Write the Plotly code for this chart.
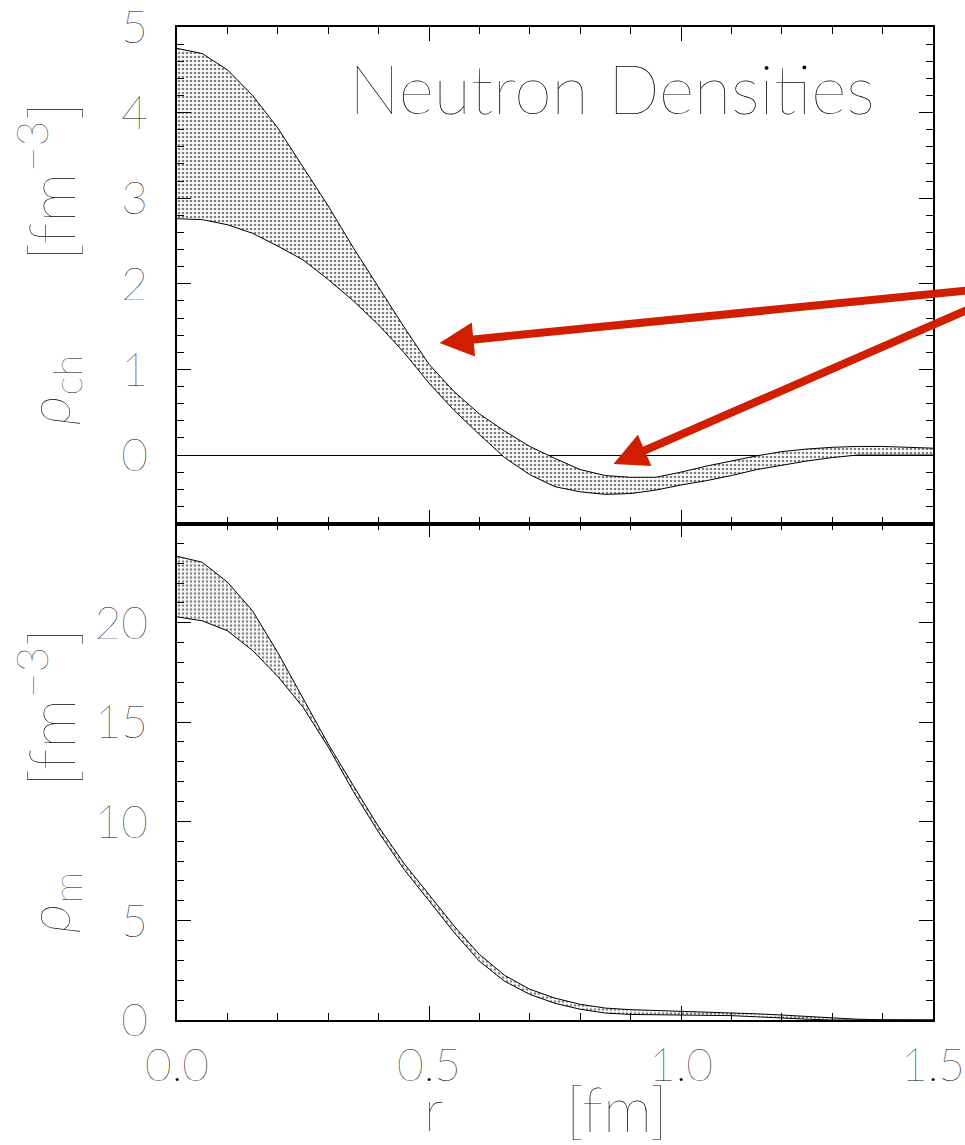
import plotly.graph_objects as go

# ---------------- data ----------------
r = [0.00, 0.05, 0.10, 0.15, 0.20, 0.25, 0.30, 0.35, 0.40, 0.45, 0.50,
     0.55, 0.60, 0.65, 0.70, 0.75, 0.80, 0.85, 0.90, 0.95, 1.00,
     1.05, 1.10, 1.15, 1.20, 1.25, 1.30, 1.35, 1.40, 1.45, 1.50]

rho_ch_upper = [4.75, 4.69, 4.50, 4.20, 3.82, 3.37, 2.91, 2.42, 1.96, 1.50, 1.06,
                0.74, 0.48, 0.28, 0.10, -0.04, -0.17, -0.24, -0.26, -0.26, -0.20,
                -0.13, -0.07, -0.01, 0.04, 0.07, 0.09, 0.10, 0.10, 0.09, 0.08]
rho_ch_lower = [2.76, 2.75, 2.69, 2.59, 2.44, 2.28, 2.05, 1.80, 1.52, 1.20, 0.84,
                0.52, 0.24, -0.03, -0.23, -0.37, -0.43, -0.46, -0.45, -0.41, -0.35,
                -0.30, -0.24, -0.17, -0.12, -0.07, -0.03, 0.00, 0.00, 0.00, 0.00]

rho_m_upper = [23.35, 23.05, 22.05, 20.6, 18.5, 16.2, 13.9, 11.8, 9.73, 7.9, 6.3,
               4.73, 3.30, 2.25, 1.55, 1.10, 0.79, 0.60, 0.52, 0.48, 0.45,
               0.42, 0.37, 0.31, 0.25, 0.17, 0.09, 0.04, 0.01, 0.0, 0.0]
rho_m_lower = [20.3, 20.1, 19.6, 18.6, 17.3, 15.75, 13.75, 11.5, 9.45, 7.6, 6.0,
               4.4, 2.96, 1.95, 1.29, 0.84, 0.54, 0.35, 0.28, 0.26, 0.25,
               0.24, 0.22, 0.16, 0.09, 0.04, 0.0, 0.0, 0.0, 0.0, 0.0]

x_ticks = [0.0, 0.5, 1.0, 1.5]
y_ch_ticks = [0, 1, 2, 3, 4, 5]
y_m_ticks = [0, 5, 10, 15, 20]

title_text = "Neutron Densities"

# ---------------- styling ----------------
FONT = "Lato, 'DejaVu Sans', sans-serif"
WEIGHT = 200
W, H = 965, 1145
ML, MR, MT, MB = 177, 32, 27, 125
PW, PH = W - ML - MR, H - MT - MB
RED = "#D21E00"


def px_x(p):
    return (p - ML) / PW


def px_y(p):
    return (H - MB - p) / PH


pattern = dict(shape=".", fgcolor="black", bgcolor="white", size=4, solidity=0.35)

fig = go.Figure()
for xa, ya, lo, up in [("x2", "y2", rho_ch_lower, rho_ch_upper),
                       ("x", "y", rho_m_lower, rho_m_upper)]:
    fig.add_trace(go.Scatter(x=r, y=lo, xaxis=xa, yaxis=ya, mode="lines",
                             line=dict(color="black", width=1), showlegend=False,
                             hoverinfo="skip"))
    fig.add_trace(go.Scatter(x=r, y=up, xaxis=xa, yaxis=ya, mode="lines",
                             line=dict(color="black", width=1), fill="tonexty",
                             fillcolor="rgba(0,0,0,0)", fillpattern=pattern,
                             showlegend=False, hoverinfo="skip"))

tickfont = dict(family=FONT, size=46, color="black", weight=WEIGHT)
axis_common = dict(showline=True, linecolor="black", linewidth=1.5, mirror="allticks",
                   ticks="inside", tickcolor="black", tickwidth=1.2, ticklen=14,
                   showgrid=False, zeroline=False, ticklabeloverflow="allow",
                   automargin=False, tickfont=tickfont)


def minor(dt):
    return dict(ticks="inside", ticklen=7, tickcolor="black", tickwidth=1.2,
                tick0=0, dtick=dt, showgrid=False)


fig.update_layout(
    width=W, height=H, autosize=False,
    margin=dict(l=ML, r=MR, t=MT, b=MB, pad=0, autoexpand=False),
    paper_bgcolor="white", plot_bgcolor="white",
    font=dict(family=FONT, weight=WEIGHT, color="black"),
    xaxis=dict(axis_common, domain=[0, 1], range=[0, 1.5], anchor="y",
               tickmode="array", tickvals=x_ticks, tickformat=".1f",
               ticklabelstandoff=4, minor=minor(0.1)),
    xaxis2=dict(axis_common, domain=[0, 1], range=[0, 1.5], anchor="y2", matches="x",
                showticklabels=False, tickmode="array", tickvals=x_ticks,
                minor=minor(0.1)),
    yaxis=dict(axis_common, domain=[0, 0.5], range=[0, 25], anchor="x",
               tickmode="array", tickvals=y_m_ticks, ticklabelstandoff=18,
               minor=minor(1)),
    yaxis2=dict(axis_common, domain=[0.5, 1], range=[-0.8, 5], anchor="x2",
                tickmode="array", tickvals=y_ch_ticks, ticklabelstandoff=18,
                zeroline=True, zerolinecolor="black", zerolinewidth=1,
                minor=minor(0.2)),
)

annos = [
    dict(text=title_text, x=px_x(612), y=px_y(88), size=68, angle=0),
    dict(text="<i>ρ</i><sub>ch</sub>", x=px_x(52), y=px_y(390), size=58, angle=-90),
    dict(text="[fm<sup>−3</sup>]", x=px_x(46), y=px_y(182), size=64, angle=-90),
    dict(text="<i>ρ</i><sub>m</sub>", x=px_x(52), y=px_y(903), size=58, angle=-90),
    dict(text="[fm<sup>−3</sup>]", x=px_x(46), y=px_y(708), size=64, angle=-90),
    dict(text="r", x=px_x(434), y=px_y(1108), size=58, angle=0),
    dict(text="[fm]", x=px_x(617), y=px_y(1108), size=62, angle=0),
]
for a in annos:
    fig.add_annotation(text=a["text"], xref="paper", yref="paper", x=a["x"], y=a["y"],
                       xanchor="center", yanchor="middle", showarrow=False,
                       textangle=a["angle"],
                       font=dict(family=FONT, size=a["size"], color="black", weight=WEIGHT))

# red arrows (tail off the right edge, heads on the bands)
tail = (1.683, 1.99)
for head in [(0.521, 1.31), (0.866, -0.105)]:
    fig.add_annotation(x=head[0], y=head[1], xref="x2", yref="y2",
                       ax=tail[0], ay=tail[1], axref="x2", ayref="y2",
                       text="", showarrow=True, arrowhead=2, arrowsize=0.85,
                       arrowwidth=8, arrowcolor=RED)

fig.write_html("out.html",
               config={"displayModeBar": False},
               post_script="document.body.style.margin='0';"
                           "document.body.style.overflow='hidden';")
